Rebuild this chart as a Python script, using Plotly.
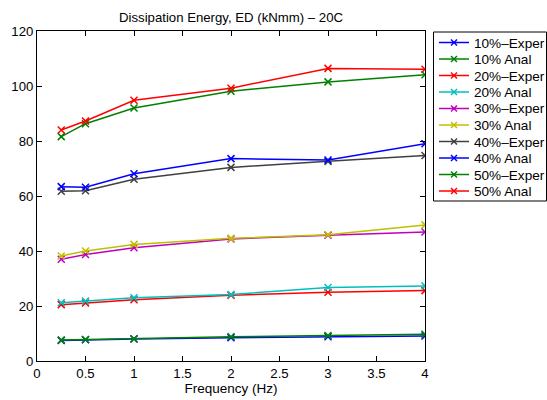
import plotly.graph_objects as go

freq = [0.25, 0.5, 1, 2, 3, 4]

exper_10 = [7.5, 7.7, 8.0, 8.5, 8.8, 9.1]
anal_10 = [7.6, 7.8, 8.1, 8.8, 9.3, 9.7]
exper_20 = [20.5, 21.1, 22.3, 23.9, 25.0, 25.6]
anal_20 = [21.2, 21.8, 23.0, 24.2, 26.7, 27.3]
exper_30 = [37.0, 38.7, 41.2, 44.4, 45.7, 46.9]
anal_30 = [38.2, 40.0, 42.4, 44.6, 45.9, 49.5]
exper_40 = [61.7, 61.9, 66.1, 70.4, 72.6, 74.7]
anal_40 = [63.4, 63.2, 68.1, 73.6, 73.1, 79.0]
exper_50 = [81.6, 86.3, 92.0, 98.1, 101.5, 104.1]
anal_50 = [84.0, 87.3, 94.8, 99.2, 106.4, 106.1]

series_names = ["10%–Exper", "10% Anal", "20%–Exper", "20% Anal", "30%–Exper",
                "30% Anal", "40%–Exper", "40% Anal", "50%–Exper", "50% Anal"]
series_values = [exper_10, anal_10, exper_20, anal_20, exper_30,
                 anal_30, exper_40, anal_40, exper_50, anal_50]
series_colors = ["#0000ff", "#008000", "#ff0000", "#00bfbf", "#bf00bf",
                 "#bfbf00", "#404040", "#0000ff", "#008000", "#ff0000"]

font_family = "Liberation Sans, Arial, Helvetica, sans-serif"

W, H = 547, 400
ML, MR, MT, MB = 37, 122, 31, 39
PW, PH = W - ML - MR, H - MT - MB


def px_x(px):
    """Pixel column -> paper x."""
    return (px - ML) / PW


def px_y(py):
    """Pixel row -> paper y."""
    return (H - MB - py) / PH


fig = go.Figure()
for name, vals, col in zip(series_names, series_values, series_colors):
    fig.add_trace(go.Scatter(
        x=freq, y=vals, name=name, mode="lines+markers",
        line=dict(color=col, width=1.5),
        marker=dict(symbol="x-thin", size=7, line=dict(color=col, width=1.5)),
        showlegend=False,
    ))

axis_style = dict(
    showline=True, linecolor="black", linewidth=1, mirror="ticks",
    ticks="inside", ticklen=5, tickcolor="black", showgrid=False, zeroline=False,
    tickfont=dict(family=font_family, size=13.2, color="black"),
)

fig.update_xaxes(range=[0, 4], dtick=0.5, title=dict(
    text="Frequency (Hz)", font=dict(family=font_family, size=13.5, color="black"),
    standoff=0), **axis_style)
fig.update_yaxes(range=[0, 120], dtick=20, **axis_style)

# Boxed legend drawn beside the axes
box_left, box_top, box_right, box_bottom = 433.5, 32, 546.5, 201
row0, row_step = 42.5, 16.5
line_x0, line_x1, text_x = 439, 469, 471.5
shapes = [dict(type="rect", xref="paper", yref="paper",
               x0=px_x(box_left), x1=px_x(box_right),
               y0=px_y(box_bottom), y1=px_y(box_top),
               line=dict(color="black", width=1), fillcolor="white", layer="above")]
annotations = []
for i, (name, col) in enumerate(zip(series_names, series_colors)):
    ry = row0 + i * row_step
    shapes.append(dict(type="line", xref="paper", yref="paper",
                       x0=px_x(line_x0), x1=px_x(line_x1),
                       y0=px_y(ry), y1=px_y(ry),
                       line=dict(color=col, width=1.5), layer="above"))
    cx = (line_x0 + line_x1) / 2
    for d in (1, -1):
        shapes.append(dict(type="line", xref="paper", yref="paper",
                           x0=px_x(cx - 3), x1=px_x(cx + 3),
                           y0=px_y(ry - 3 * d), y1=px_y(ry + 3 * d),
                           line=dict(color=col, width=1.5), layer="above"))
    annotations.append(dict(text=name, xref="paper", yref="paper",
                            x=px_x(text_x), y=px_y(ry + 0.5),
                            xanchor="left", yanchor="middle", showarrow=False,
                            font=dict(family=font_family, size=13.6, color="black")))

fig.update_layout(
    width=W, height=H,
    margin=dict(l=ML, r=MR, t=MT, b=MB, autoexpand=False),
    paper_bgcolor="white", plot_bgcolor="white",
    font=dict(family=font_family, size=13, color="black"),
    title=dict(text="Dissipation Energy, ED (kNmm) – 20C",
               x=px_x(ML + PW / 2), xref="paper", xanchor="center",
               y=1 - 17 / H, yref="container", yanchor="middle",
               font=dict(family=font_family, size=13.2, color="black")),
    shapes=shapes,
    annotations=annotations,
    showlegend=False,
)

fig.write_html("out.html")
